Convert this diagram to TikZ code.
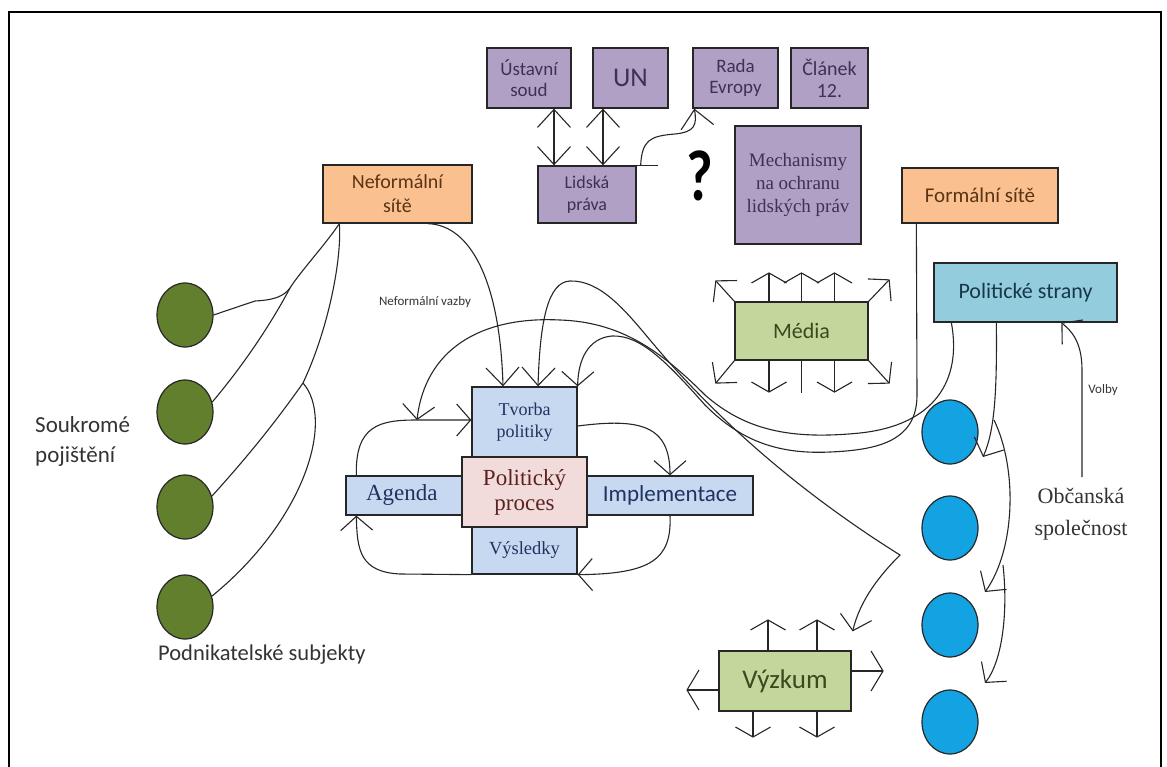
\documentclass[tikz,border=0pt]{standalone}
\usepackage{fontspec}
\setmainfont{Carlito}
\newfontfamily\tms{Liberation Serif}
\usetikzlibrary{arrows.meta,shapes.geometric}

\definecolor{purplebox}{HTML}{B0A0C6}
\definecolor{purpletext}{HTML}{3F3151}
\definecolor{orangebox}{HTML}{FAC090}
\definecolor{orangetext}{HTML}{5A3413}
\definecolor{tealbox}{HTML}{93CDDD}
\definecolor{tealtext}{HTML}{17374A}
\definecolor{olivebox}{HTML}{C3D69B}
\definecolor{olivetext}{HTML}{3B4A1E}
\definecolor{bluebox}{HTML}{C6D9F1}
\definecolor{bluetext}{HTML}{1F3360}
\definecolor{pinkbox}{HTML}{F2DCDB}
\definecolor{pinktext}{HTML}{5A2320}
\definecolor{greendot}{HTML}{617F2C}
\definecolor{bluedot}{HTML}{14A3E2}
\definecolor{labeltext}{HTML}{333333}

\begin{document}
\begin{tikzpicture}[x=1pt,y=-1pt,
  box/.style={draw=black!85, line width=1.3pt, inner sep=0pt, align=center},
  purple/.style={box, fill=purplebox, text=purpletext, font=\fontsize{19}{21}\selectfont},
  orange/.style={box, fill=orangebox, text=orangetext, font=\fontsize{20}{24}\selectfont},
  teal/.style={box, fill=tealbox, text=tealtext, font=\fontsize{22}{24}\selectfont},
  olive/.style={box, fill=olivebox, text=olivetext},
  blue/.style={box, fill=bluebox, text=bluetext},
  pink/.style={box, fill=pinkbox, text=pinktext},
  dot/.style={ellipse, draw=black!85, line width=1.2pt, minimum width=56pt, minimum height=64pt, inner sep=0pt},
  link/.style={draw=black!85, line width=1.1pt},
  arr/.style={link, -{Straight Barb[length=14pt,width=32pt]}},
  tallarr/.style={link, -{Straight Barb[length=18pt,width=33pt]}},
  flatarr/.style={link, -{Straight Barb[length=10pt,width=35pt]}},
  sidearr/.style={link, -{Straight Barb[length=12pt,width=40pt]}},
  darr/.style={link, {Straight Barb[length=18pt,width=33pt]}-{Straight Barb[length=18pt,width=33pt]}},
  bothends/.style={link, {Straight Barb[length=18pt,width=33pt]}-{Straight Barb[length=14pt,width=32pt]}},
  lbl/.style={text=labeltext, inner sep=0pt, align=center}
]
\useasboundingbox (0,0) rectangle (1167,767);

% outer frame
\draw[line width=2.6pt] (9,767) -- (9,12) -- (1161,12) -- (1161,767);

% human rights mechanisms
\node[purple, minimum width=84pt, minimum height=60pt] (us) at (529,78) {Ústavní\\soud};
\node[purple, minimum width=75pt, minimum height=60pt, font=\fontsize{27}{30}\selectfont] (un) at (630.5,78) {UN};
\node[purple, minimum width=85pt, minimum height=60pt] (re) at (735.5,78) {Rada\\Evropy};
\node[purple, minimum width=77pt, minimum height=60pt, font=\fontsize{20}{22}\selectfont] (cl) at (829.5,78) {Článek\\12.};
\node[purple, minimum width=98pt, minimum height=57pt, font=\fontsize{18}{22}\selectfont] (lp) at (587,194.5) {Lidská\\práva};
\node[purple, minimum width=126pt, minimum height=118pt, font=\tms\fontsize{19}{23}\selectfont] (me) at (798,185) {Mechanismy\\na ochranu\\lidských práv};
\node[inner sep=0pt, font=\bfseries\fontsize{72}{72}\selectfont, xscale=0.8] (q) at (700,176) {?};

\draw[darr] ([xshift=25pt]us.south) -- ([xshift=25pt]us.south |- lp.north);
\draw[darr] ([xshift=-27.5pt]un.south) -- ([xshift=-27.5pt]un.south |- lp.north);
\draw[link] (lp.north east) -- ([xshift=21pt]lp.north east);
\draw[tallarr] ([xshift=4pt]lp.north east) .. controls (642,140) and (650,136) .. (675,134)
  .. controls (695,132) and (697,125) .. ([xshift=2pt]re.south west);

% networks
\node[orange, minimum width=149pt, minimum height=58pt] (nf) at (397.5,194) {Neformální\\sítě};
\node[orange, minimum width=156pt, minimum height=55pt, font=\fontsize{21}{24}\selectfont] (fs) at (980,195.5) {Formální sítě};
\node[teal, minimum width=183pt, minimum height=59pt] (ps) at (1025.5,292.5) {Politické strany};

% media and research
\node[olive, minimum width=133pt, minimum height=58pt, font=\fontsize{22}{24}\selectfont] (md) at (801.5,331) {Média};
\node[olive, minimum width=132pt, minimum height=60pt, font=\fontsize{27}{30}\selectfont] (vz) at (785,681) {Výzkum};

\foreach \dx in {-32.5,0,33}{
  \draw[flatarr] ([xshift=\dx pt]md.north) -- ++(0,-29);
}
\draw[flatarr] ([xshift=-32.5pt]md.south) -- ++(0,32);
\draw[link] (md.south) -- ++(0,32);
\draw[flatarr] ([xshift=33pt]md.south) -- ++(0,32);
\draw[arr] (md.north west) -- ++(-19,-21);
\draw[arr] (md.north east) -- ++(21,-22);
\draw[arr] (md.south west) -- ++(-19,23);
\draw[arr] (md.south east) -- ++(21,23);

\draw[flatarr] ([xshift=-17pt]vz.north) -- ++(0,-31);
\draw[flatarr] ([xshift=32pt]vz.north) -- ++(0,-31);
\draw[flatarr] ([xshift=-32pt]vz.south) -- ++(0,26);
\draw[flatarr] ([xshift=32pt]vz.south) -- ++(0,26);
\draw[sidearr] ([yshift=-9pt]vz.west) -- ++(-32,0);
\draw[sidearr] ([yshift=10pt]vz.east) -- ++(32,0);

% policy process
\node[blue, minimum width=105pt, minimum height=70pt, font=\tms\fontsize{18}{22}\selectfont] (tv) at (524.5,422) {Tvorba\\politiky};
\node[blue, minimum width=105pt, minimum height=47pt, font=\tms\fontsize{18.5}{20}\selectfont] (vy) at (524.5,550.5) {Výsledky};
\node[blue, minimum width=116pt, minimum height=39pt, font=\tms\fontsize{23}{24}\selectfont, text width=116pt, align=left] (ag) at (404,495.5) {\hspace*{20pt}Agenda};
\node[blue, minimum width=166pt, minimum height=39pt, font=\fontsize{23}{24}\selectfont] (im) at (670,495.5) {Implementace};
\node[pink, minimum width=125pt, minimum height=70pt, font=\tms\fontsize{23}{25}\selectfont] (pp) at (524.5,492) {Politický\\proces};

\coordinate (agj) at (417,420);
\draw[arr] ([xshift=11pt]ag.north west) .. controls (355,425) and (380,420) .. (agj) -- (tv.west |- agj);
\draw[arr] ([yshift=-4pt]tv.east) .. controls (640,418) and (670,425) .. (im.north);
\draw[arr] (im.south) .. controls (672,560) and (650,574) .. (vy.south east);
\draw[arr] (vy.south west) -- (400,574) .. controls (360,572) and (357,550) .. ([xshift=11pt]ag.south west);

% connectors between the actors and the policy process
\draw[tallarr] ([xshift=30.5pt]nf.south) .. controls (470,225) and (500,280) .. ([xshift=-21.5pt]tv.north);
\draw[arr] ([xshift=18pt]ps.south west) .. controls (962,380) and (935,425) .. (860,433)
  .. controls (790,440) and (745,430) .. (705,395)
  .. controls (660,350) and (620,322) .. (560,320)
  .. controls (480,316) and (425,350) .. (agj);
\draw[arr] ([xshift=15pt]fs.south west) -- (917,395) .. controls (917,440) and (880,450) .. (830,452)
  .. controls (770,455) and (735,435) .. (705,405)
  .. controls (665,360) and (640,335) .. (612,336)
  .. controls (588,338) and (578,360) .. (tv.north east);
\draw[bothends] ([xshift=13.5pt]tv.north) .. controls (540,320) and (548,282) .. (570,281)
  .. controls (600,280) and (625,310) .. (650,340)
  .. controls (700,400) and (780,480) .. (900,555)
  .. controls (880,575) and (860,600) .. ([shift={(1,-19)}]vz.north east);

\node[lbl, font=\fontsize{13}{14}\selectfont] (nv) at (425,302) {Neformální vazby};

% private sector
\node[dot, fill=greendot] (g1) at (185,315) {};
\node[dot, fill=greendot] (g2) at (185,412) {};
\node[dot, fill=greendot] (g3) at (185,507) {};
\node[dot, fill=greendot] (g4) at (185,607) {};
\node[lbl, font=\fontsize{23}{30}\selectfont, align=left, anchor=west] (sp) at (35,441) {Soukromé\\pojištění};
\node[lbl, font=\fontsize{22.5}{24}\selectfont, anchor=west] (pds) at (158,655) {Podnikatelské subjekty};

\coordinate (nfa) at ([xshift=17pt]nf.south west);
\coordinate (ja) at (290,288);
\coordinate (jb) at (303,383);
\draw[link] (nfa) .. controls (325,245) and (300,272) .. (ja) .. controls (265,335) and (235,375) .. (g2.20);
\draw[link] (g1.east) -- (255,301) .. controls (275,300) and (284,296) .. (ja);
\draw[link] (nfa) .. controls (342,260) and (328,330) .. (jb) .. controls (270,430) and (240,465) .. (g3.22);
\draw[link] (jb) .. controls (335,420) and (305,520) .. (g4.22);

% civil society
\node[dot, fill=bluedot] (b1) at (950,432) {};
\node[dot, fill=bluedot] (b2) at (950,528) {};
\node[dot, fill=bluedot] (b3) at (950,625) {};
\node[dot, fill=bluedot] (b4) at (950,722) {};
\node[lbl, font=\tms\fontsize{22}{32}\selectfont] (os) at (1081,514) {Občanská\\společnost};
\node[lbl, font=\fontsize{13}{14}\selectfont] (vo) at (1103,390) {Volby};
\coordinate (vb) at (1082,477);

\draw[arr] ([xshift=63pt]ps.south west) .. controls (997,390) and (995,430) .. (983,457);
\draw[arr] (994,420) .. controls (1018,470) and (1015,550) .. (985,592);
\draw[arr] (1003,565) .. controls (1008,610) and (1003,660) .. (985,683);
\draw[arr] (vb) -- (1082,370) .. controls (1082,340) and (1070,330) .. ([xshift=128pt]ps.south west);
\end{tikzpicture}
\end{document}
